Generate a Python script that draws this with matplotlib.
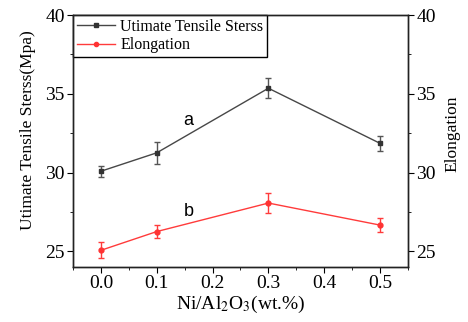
import numpy as np
import matplotlib.pyplot as plt
from matplotlib.lines import Line2D
from matplotlib.ticker import MultipleLocator, FormatStrFormatter

# values
ni_content = [0.0, 0.1, 0.3, 0.5]
uts = [30.08, 31.25, 35.35, 31.85]
uts_err = [0.35, 0.7, 0.65, 0.47]
elong = [25.06, 26.25, 28.06, 26.66]
elong_err = [0.5, 0.4, 0.63, 0.46]

uts_col = '#474747'
el_col = '#ff3b3b'

plt.rcParams['font.family'] = ['Liberation Serif', 'DejaVu Serif']
plt.rcParams['mathtext.fontset'] = 'stix'

fig = plt.figure(figsize=(4.68, 3.22), dpi=100)
ax = fig.add_axes([73/468, 1-267/322, (408-73)/468, (267-15)/322])

ax.errorbar(ni_content, uts, yerr=uts_err, color=uts_col, lw=1.0,
            marker='s', ms=3.5, mfc='#333333', mec='#333333',
            ecolor='#555555', elinewidth=1.0, capsize=2.5, capthick=1.0)
ax.errorbar(ni_content, elong, yerr=elong_err, color=el_col, lw=1.0,
            marker='o', ms=3.5, mfc='#ff3333', mec='#ff3333',
            ecolor=el_col, elinewidth=1.0, capsize=2.5, capthick=1.0)

ax.set_xlim(-0.05, 0.55)
ax.set_ylim(24, 40)
ax.xaxis.set_major_locator(MultipleLocator(0.1))
ax.xaxis.set_minor_locator(MultipleLocator(0.05))
ax.xaxis.set_major_formatter(FormatStrFormatter('%.1f'))
ax.yaxis.set_major_locator(MultipleLocator(5))
ax.yaxis.set_minor_locator(MultipleLocator(2.5))
ax.tick_params(which='both', direction='out', labelsize=14, top=False, right=False)
ax.tick_params(which='major', length=4, pad=2)
ax.tick_params(which='minor', length=2.5)

ax.set_xlabel('Ni/Al$_2$O$_3$(wt.%)', fontsize=14, labelpad=1)
ax.set_ylabel('Utimate Tensile Sterss(Mpa)', fontsize=12.5)
ax.yaxis.set_label_coords(-0.11, 0.544)

ax2 = ax.twinx()
ax2.set_ylim(24, 40)
ax2.yaxis.set_major_locator(MultipleLocator(5))
ax2.yaxis.set_minor_locator(MultipleLocator(2.5))
ax2.tick_params(which='both', direction='out', labelsize=14)
ax2.tick_params(which='major', length=4, pad=2)
ax2.tick_params(which='minor', length=2.5)
ax2.set_ylabel('Elongation', fontsize=12.5)
ax2.yaxis.set_label_coords(1.108, 0.53)

for a in (ax, ax2):
    for s in a.spines.values():
        s.set_linewidth(1.0)
        s.set_color('#222222')

ax.text(0.157, 33.3, 'a', fontsize=13, family='Liberation Sans', ha='center', va='center')
ax.text(0.157, 27.5, 'b', fontsize=13, family='Liberation Sans', ha='center', va='center')

handles = [
    Line2D([], [], color=uts_col, lw=1.0, marker='s', ms=3, mfc='#333333', mec='#333333'),
    Line2D([], [], color=el_col, lw=1.0, marker='o', ms=3, mfc='#ff3333', mec='#ff3333'),
]
leg = ax.legend(handles, ['Utimate Tensile Sterss', 'Elongation'],
                loc='upper left', borderaxespad=0, fancybox=False,
                edgecolor='black', framealpha=1, fontsize=11.5, numpoints=1,
                handlelength=2.4, borderpad=0.25, labelspacing=0.15,
                handletextpad=0.3)
leg.get_frame().set_linewidth(1.0)

fig.savefig('out.png', dpi=100)
